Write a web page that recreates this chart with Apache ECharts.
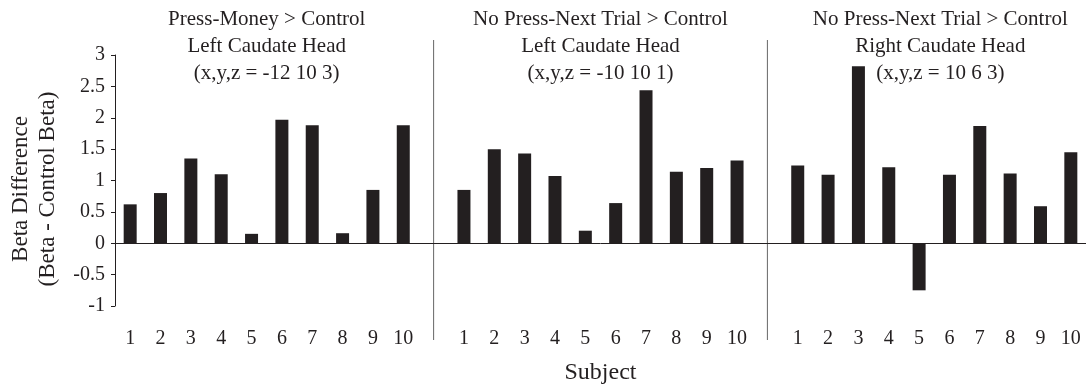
<!DOCTYPE html>
<html>
<head>
<meta charset="utf-8">
<script src="https://cdn.jsdelivr.net/npm/echarts@6/dist/echarts.min.js"></script>
<style>
  html, body { margin: 0; padding: 0; background: #fff; }
  #chart { width: 1088px; height: 391px; }
</style>
</head>
<body>
<div id="chart"></div>
<script>
// subjects per panel
const subjects = ['1', '2', '3', '4', '5', '6', '7', '8', '9', '10'];
// beta differences
const pressMoneyLeft = [0.62, 0.80, 1.35, 1.10, 0.15, 1.97, 1.88, 0.16, 0.85, 1.88];
const noPressLeft = [0.85, 1.50, 1.43, 1.07, 0.20, 0.64, 2.44, 1.14, 1.20, 1.32];
const noPressRight = [1.24, 1.09, 2.82, 1.21, -0.75, 1.09, 1.87, 1.11, 0.59, 1.45];
const panelTitles = [
  'Press-Money > Control\nLeft Caudate Head\n(x,y,z = -12 10 3)',
  'No Press-Next Trial > Control\nLeft Caudate Head\n(x,y,z = -10 10 1)',
  'No Press-Next Trial > Control\nRight Caudate Head\n(x,y,z = 10 6 3)'
];

// one shared category axis, with an empty slot between panels
const categories = [...subjects, '', ...subjects, '', ...subjects];
const values = [...pressMoneyLeft, null, ...noPressLeft, null, ...noPressRight];

const font = 'Liberation Serif';
const ink = '#231f20';

const chart = echarts.init(document.getElementById('chart'));
chart.setOption({
  animation: false,
  textStyle: { fontFamily: font, color: ink },
  grid: { left: 115, right: 2, top: 55, bottom: 85 },
  xAxis: {
    type: 'category',
    data: categories,
    axisLine: { show: false },
    axisTick: { show: false },
    axisLabel: { fontSize: 20, color: ink, margin: 23, interval: 0 },
    name: 'Subject',
    nameLocation: 'middle',
    nameGap: 55,
    nameTextStyle: { fontSize: 24, color: ink }
  },
  yAxis: {
    type: 'value',
    min: -1,
    max: 3,
    interval: 0.5,
    splitLine: { show: false },
    axisLine: { show: true, lineStyle: { color: ink, width: 1 } },
    axisTick: { show: true, length: 4, lineStyle: { color: ink } },
    axisLabel: { fontSize: 20, color: ink, margin: 10 }
  },
  series: [{
    type: 'bar',
    data: values,
    barWidth: 13,
    itemStyle: { color: ink },
    markLine: {
      silent: true,
      symbol: 'none',
      label: { show: false },
      lineStyle: { color: ink, width: 1, type: 'solid' },
      data: [{ yAxis: 0 }]
    }
  }]
});

// panel dividers and titles placed from the category scale
const px = i => chart.convertToPixel({ xAxisIndex: 0 }, i);
const dividerX = [10, 21].map(px);
const panelCenters = [[4, 5], [15, 16], [26, 27]].map(([a, b]) => (px(a) + px(b)) / 2);
const graphics = dividerX.map(x => ({
  type: 'line',
  shape: { x1: x, y1: 40, x2: x, y2: 340 },
  style: { stroke: '#666', lineWidth: 1 }
}));
panelTitles.forEach((t, i) => {
  graphics.push({
    type: 'text',
    x: panelCenters[i] + (i === 2 ? 6 : 0),
    y: 6,
    style: {
      text: t,
      fontFamily: font,
      fontSize: 21,
      lineHeight: 27,
      fill: ink,
      align: 'center',
      verticalAlign: 'top'
    }
  });
});
// y axis title, two rotated lines
[['Beta Difference', 21], ['(Beta - Control Beta)', 48]].forEach(([t, x]) => {
  graphics.push({
    type: 'text',
    x: x,
    y: 189,
    rotation: Math.PI / 2,
    style: {
      text: t,
      fontFamily: font,
      fontSize: 23,
      fill: ink,
      align: 'center',
      verticalAlign: 'middle'
    }
  });
});
chart.setOption({ graphic: graphics });
</script>
</body>
</html>
